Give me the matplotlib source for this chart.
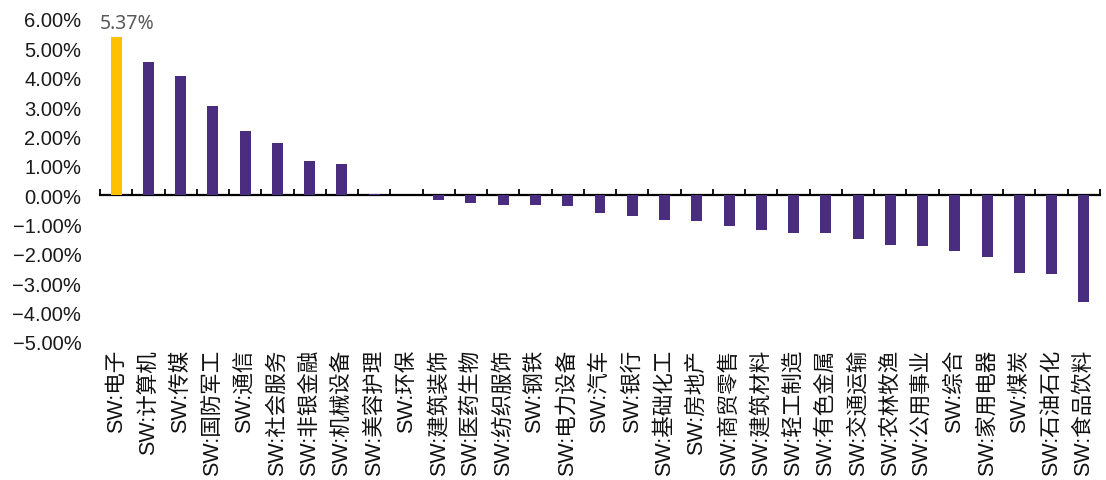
import matplotlib
matplotlib.use("Agg")
import matplotlib.pyplot as plt

# Weekly return by Shenwan level-1 industry (%)
categories = [
    "SW:电子", "SW:计算机", "SW:传媒", "SW:国防军工", "SW:通信", "SW:社会服务",
    "SW:非银金融", "SW:机械设备", "SW:美容护理", "SW:环保", "SW:建筑装饰",
    "SW:医药生物", "SW:纺织服饰", "SW:钢铁", "SW:电力设备", "SW:汽车", "SW:银行",
    "SW:基础化工", "SW:房地产", "SW:商贸零售", "SW:建筑材料", "SW:轻工制造",
    "SW:有色金属", "SW:交通运输", "SW:农林牧渔", "SW:公用事业", "SW:综合",
    "SW:家用电器", "SW:煤炭", "SW:石油石化", "SW:食品饮料",
]
returns = [
    5.37, 4.52, 4.05, 3.03, 2.18, 1.79, 1.15, 1.05, 0.03, 0.00, -0.15,
    -0.26, -0.33, -0.35, -0.36, -0.62, -0.71, -0.85, -0.87, -1.04, -1.17,
    -1.30, -1.30, -1.48, -1.71, -1.74, -1.91, -2.12, -2.65, -2.68, -3.65,
]
highlight = "SW:电子"
y_ticks = [6, 5, 4, 3, 2, 1, 0, -1, -2, -3, -4, -5]
y_tick_labels = ["6.00%", "5.00%", "4.00%", "3.00%", "2.00%", "1.00%", "0.00%",
                 "\u22121.00%", "\u22122.00%", "\u22123.00%", "\u22124.00%", "\u22125.00%"]

PURPLE = "#4B2D7F"
GOLD = "#FFC000"

fig = plt.figure(figsize=(11.06, 4.81), dpi=100)
ax = fig.add_axes([100 / 1106, 1 - 343 / 481, 1000 / 1106, 323 / 481])

x = list(range(len(categories)))
colors = [GOLD if c == highlight else PURPLE for c in categories]
ax.bar(x, returns, width=0.34, color=colors, zorder=2)

ymin, ymax = min(y_ticks), max(y_ticks)
ax.set_ylim(ymin, ymax)
ax.set_xlim(-0.5, len(categories) - 0.5)

# y axis: labels only
ax.set_yticks(y_ticks)
ax.set_yticklabels(y_tick_labels, family=["Liberation Sans", "DejaVu Sans"],
                   fontsize=14.5, color="#1a1a1a")
ax.tick_params(axis="y", length=0, pad=13.5)

# category labels along the bottom of the plot area
ax.set_xticks(x)
ax.set_xticklabels(categories, rotation=90, va="top", ha="center",
                   family=["Liberation Sans", "Noto Sans CJK SC"],
                   fontsize=15.5, color="#111111")
ax.tick_params(axis="x", length=0, pad=5)

for side in ["top", "right", "left", "bottom"]:
    ax.spines[side].set_visible(False)

# zero line with category-boundary tick marks
zero_pos = (0 - ymin) / (ymax - ymin)
zax = ax.secondary_xaxis(zero_pos)
zax.set_alignment("bottom")
zax.set_xticks([i - 0.5 for i in range(len(categories) + 1)])
zax.tick_params(axis="x", direction="in", length=4, width=1.3,
                labelbottom=False, labeltop=False, color="black")
zax.spines["bottom"].set_linewidth(1.6)
zax.spines["bottom"].set_color("black")

# value label for the leading industry
i_top = categories.index(highlight)
ax.annotate(f"{returns[i_top]:.2f}%", xy=(i_top, returns[i_top]),
            xytext=(8, 3), textcoords="offset points", ha="center", va="bottom",
            fontsize=14, color="#595959", family=["Noto Sans", "DejaVu Sans"])

fig.savefig("out.png", dpi=100)
